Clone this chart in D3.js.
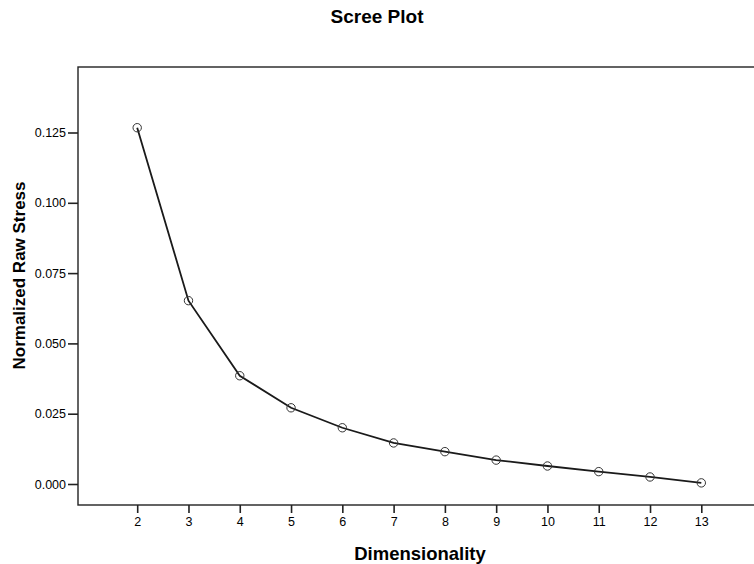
<!DOCTYPE html>
<html>
<head>
<meta charset="utf-8">
<script src="https://cdn.jsdelivr.net/npm/d3@7"></script>
<style>
  body { margin: 0; background: #fff; }
  text { font-family: "Liberation Sans", Arial, sans-serif; fill: #000; }
</style>
</head>
<body>
<svg width="754" height="564"></svg>
<script>
const dimensions = [2, 3, 4, 5, 6, 7, 8, 9, 10, 11, 12, 13]
const stress = [0.1267, 0.0652, 0.0385, 0.0271, 0.0200, 0.0146, 0.0115, 0.0085, 0.0064, 0.0044, 0.0025, 0.0004]
const yTicks = [0, 0.025, 0.05, 0.075, 0.1, 0.125]

const svg = d3.select("svg")
const frame = {left: 78, top: 67, right: 770, bottom: 505}

const x = d3.scaleLinear().domain([2, 13]).range([137.2, 701.3])
const y = d3.scaleLinear().domain([0, 0.125]).range([484, 132.5])

// frame (right side runs off the page like the original)
svg.append("rect")
  .attr("x", frame.left).attr("y", frame.top)
  .attr("width", frame.right - frame.left).attr("height", frame.bottom - frame.top)
  .attr("fill", "none").attr("stroke", "#222").attr("stroke-width", 1.4)

const yAxis = svg.append("g")
  .attr("transform", "translate(" + frame.left + ",0)")
  .call(d3.axisLeft(y).tickValues(yTicks).tickFormat(d3.format(".3f")).tickSize(10).tickPadding(2))
yAxis.select(".domain").remove()
yAxis.selectAll("line").attr("stroke", "#222").attr("stroke-width", 1.6)
yAxis.selectAll("text").style("font-size", "12.5px").attr("fill", "#000")

const xAxis = svg.append("g")
  .attr("transform", "translate(0," + frame.bottom + ")")
  .call(d3.axisBottom(x).tickValues(dimensions).tickFormat(d3.format("d")).tickSize(8).tickPadding(4))
xAxis.select(".domain").remove()
xAxis.selectAll("line").attr("stroke", "#222").attr("stroke-width", 1.6)
xAxis.selectAll("text").style("font-size", "12.5px").attr("fill", "#000")

const points = dimensions.map((d, i) => ({dim: d, value: stress[i]}))

const line = d3.line()
  .x(d => x(d.dim))
  .y(d => y(d.value))

svg.append("path")
  .datum(points)
  .attr("d", line)
  .attr("fill", "none")
  .attr("stroke", "#1a1a1a")
  .attr("stroke-width", 1.8)

svg.append("g")
  .selectAll("circle")
  .data(points)
  .enter().append("circle")
  .attr("cx", d => x(d.dim))
  .attr("cy", d => y(d.value))
  .attr("r", 4.2)
  .attr("fill", "none")
  .attr("stroke", "#333")
  .attr("stroke-width", 1)

svg.append("text")
  .attr("x", 377).attr("y", 23)
  .attr("text-anchor", "middle")
  .style("font-size", "19px").style("font-weight", "bold")
  .text("Scree Plot")

svg.append("text")
  .attr("x", 420).attr("y", 560)
  .attr("text-anchor", "middle")
  .style("font-size", "18.5px").style("font-weight", "bold")
  .text("Dimensionality")

svg.append("text")
  .attr("transform", "translate(25,275.5) rotate(-90)")
  .attr("text-anchor", "middle")
  .style("font-size", "17px").style("font-weight", "bold")
  .text("Normalized Raw Stress")
</script>
</body>
</html>
